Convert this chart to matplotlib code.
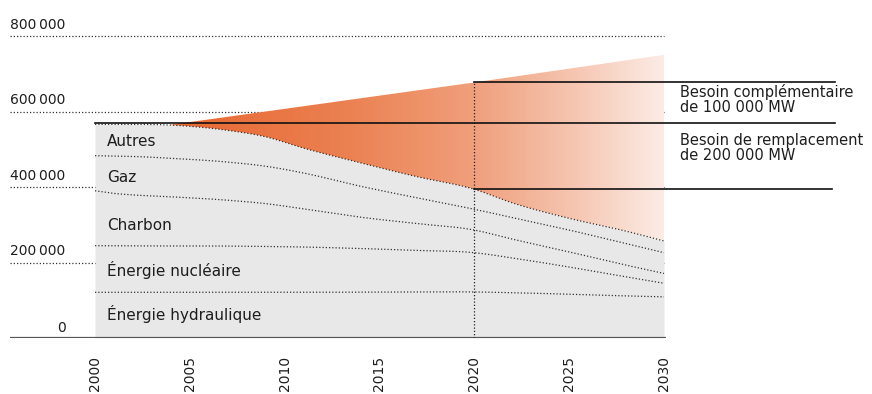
import numpy as np
import matplotlib
matplotlib.use("Agg")
import matplotlib.pyplot as plt
from matplotlib.colors import LinearSegmentedColormap

# ---------------- data ----------------
years   = [2000, 2001, 2002, 2004, 2007, 2009, 2011, 2014, 2017, 2020, 2022, 2025, 2028, 2030]
hydro   = [121000, 121000, 121000, 121000, 121000, 121000, 121000, 121500, 122000, 122000, 120000, 116000, 111500, 109000]
nuclear = [123500, 123500, 123000, 123000, 122500, 121500, 120000, 115500, 110000, 104000, 92000, 72000, 50500, 36000]
coal    = [145500, 138500, 135000, 130000, 121500, 113500, 101000, 83000, 71000, 60000, 50000, 40000, 31000, 26000]
gas     = [93000, 99000, 102000, 102000, 101000, 99000, 95000, 82000, 68000, 55000, 57000, 58000, 57000, 55000]
others  = [83000, 84000, 85000, 88000, 84000, 78000, 66000, 62000, 56000, 53000, 39000, 31000, 33000, 31000]
source_labels = ["Énergie hydraulique", "Énergie nucléaire", "Charbon", "Gaz", "Autres"]

demand_years = [2004, 2020, 2030]
demand = [565000, 677000, 750000]

level_2000 = 570000
ref_year = 2020
ytick_values = [0, 200000, 400000, 600000, 800000]
ytick_labels = ["0", "200\u2009000", "400\u2009000", "600\u2009000", "800\u2009000"]
xtick_values = [2000, 2005, 2010, 2015, 2020, 2025, 2030]
note_top = "Besoin complémentaire\nde 100 000 MW"
note_bottom = "Besoin de remplacement\nde 200 000 MW"


def smooth(x, xp, yp):
    """Cubic Hermite curve through the points (3-point slopes) for smooth lines."""
    xp = np.asarray(xp, float)
    yp = np.asarray(yp, float)
    h = np.diff(xp)
    d = np.diff(yp) / h
    m = np.zeros_like(yp)
    for k in range(1, len(xp) - 1):
        m[k] = (h[k] * d[k - 1] + h[k - 1] * d[k]) / (h[k - 1] + h[k])
    m[0] = d[0]
    m[-1] = d[-1]
    x = np.asarray(x, float)
    idx = np.clip(np.searchsorted(xp, x) - 1, 0, len(xp) - 2)
    t = (x - xp[idx]) / h[idx]
    h00 = 2 * t**3 - 3 * t**2 + 1
    h10 = t**3 - 2 * t**2 + t
    h01 = -2 * t**3 + 3 * t**2
    h11 = t**3 - t**2
    return (h00 * yp[idx] + h10 * h[idx] * m[idx]
            + h01 * yp[idx + 1] + h11 * h[idx] * m[idx + 1])


# ---------------- figure ----------------
plt.rcParams['font.family'] = ['DejaVu Sans']
fig = plt.figure(figsize=(8.72, 3.94), dpi=100)
W, H = 872, 394
px_per_year = (664 - 95) / 30
px_per_val = (338 - 36) / 800000
x_left_px, x_right_px = 10, 860
y_bot_px, y_top_px = 338, 10
xmin = 2000 - (95 - x_left_px) / px_per_year
xmax = 2030 + (x_right_px - 664) / px_per_year
ymax = (y_bot_px - y_top_px) / px_per_val
ax = fig.add_axes([x_left_px / W, (H - y_bot_px) / H,
                   (x_right_px - x_left_px) / W, (y_bot_px - y_top_px) / H])
ax.set_xlim(xmin, xmax)
ax.set_ylim(0, ymax)
for s in ax.spines.values():
    s.set_visible(False)


def px2x(px):
    return 2000 + (px - 95) / px_per_year


def py2y(py):
    return (338 - py) / px_per_val


dot = (0, (1.0, 1.6))
dotc = "#333333"
txtc = "#1e1e1e"

# gridlines
for v in ytick_values[1:]:
    ax.plot([xmin, 2030], [v, v], linestyle=dot, color=dotc, lw=0.9, zorder=1)

# y tick labels (above gridlines)
for v, lab in zip(ytick_values, ytick_labels):
    if v == 0:
        ax.text(px2x(66), v + 6.5 / px_per_val, lab, ha="right", va="baseline",
                fontsize=10, color=txtc)
    else:
        ax.text(xmin, v + 7 / px_per_val, lab, ha="left", va="baseline",
                fontsize=10, color=txtc)

# stacked areas
xs = np.linspace(2000, 2030, 601)
stack = np.cumsum(np.array([hydro, nuclear, coal, gas, others], dtype=float), axis=0)
tops = [smooth(xs, years, row) for row in stack]
ax.fill_between(xs, 0, tops[-1], color="#e8e8e8", lw=0, zorder=2)
for t in tops:
    ax.plot(xs, t, linestyle=dot, color=dotc, lw=0.9, zorder=4)

# orange gradient region
xo = np.linspace(demand_years[0], 2030, 521)
d_top = np.interp(xo, demand_years, demand)
g_top = smooth(xo, years, stack[-1])
poly = ax.fill_between(xo, np.minimum(g_top, d_top), d_top, color="none", lw=0, zorder=3)
cmap = LinearSegmentedColormap.from_list("og", [
    (0.0, (232/255, 104/255, 50/255)),
    (0.35, (235/255, 128/255, 80/255)),
    (0.62, (240/255, 160/255, 125/255)),
    (0.82, (246/255, 198/255, 178/255)),
    (1.0, (252/255, 236/255, 229/255)),
])
grad = np.linspace(0, 1, 512).reshape(1, -1)
im = ax.imshow(grad, cmap=cmap, extent=[demand_years[0], 2030, 0, ymax],
               aspect="auto", origin="lower", zorder=3, interpolation="bilinear")
im.set_clip_path(poly.get_paths()[0], transform=ax.transData)

# baseline
ax.plot([xmin, 2030.1], [0, 0], color="#555555", lw=1.6, zorder=5, solid_capstyle="butt")

# vertical dotted line at 2020
d2020 = np.interp(ref_year, demand_years, demand)
g2020 = float(smooth([ref_year], years, stack[-1])[0])
ax.plot([ref_year, ref_year], [0, d2020], linestyle=dot, color="#222222", lw=0.9, zorder=6)

# horizontal black lines
ax.plot([2000, px2x(835)], [level_2000, level_2000], color="#111111", lw=1.2, zorder=6)
ax.plot([ref_year, px2x(835)], [d2020, d2020], color="#111111", lw=1.2, zorder=6)
ax.plot([ref_year, px2x(832)], [g2020, g2020], color="#111111", lw=1.2, zorder=6)

# notes (one text per line, baselines from the picture)
x_note = px2x(680)
for note, base_px in ((note_top, 97.5), (note_bottom, 145)):
    for i, line in enumerate(note.split("\n")):
        ax.text(x_note, py2y(base_px + 15 * i), line, ha="left", va="baseline",
                fontsize=10.5, color=txtc, zorder=7)

# source labels
x_lab = px2x(107)
label_base_px = [320, 276, 230, 181.5, 146.5]
for lab, py in zip(source_labels, label_base_px):
    ax.text(x_lab, py2y(py), lab, ha="left", va="baseline",
            fontsize=11, color=txtc, zorder=7)

# x ticks
ax.set_xticks(xtick_values)
ax.set_xticklabels([str(y) for y in xtick_values], rotation=90,
                   fontsize=10, color=txtc)
ax.tick_params(axis="x", length=0, pad=13)
ax.set_yticks([])

fig.savefig("out.png", dpi=100)
